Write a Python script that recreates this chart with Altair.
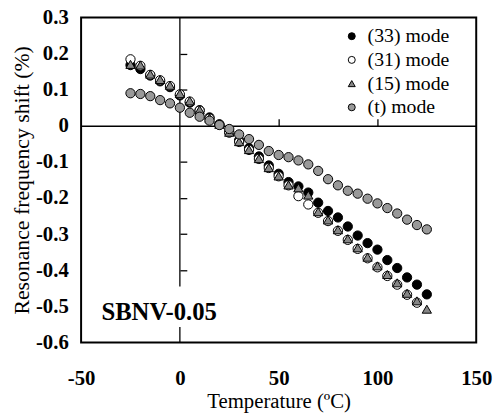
import altair as alt
import pandas as pd

# ---- data ----
temps = list(range(-25, 130, 5))          # 31 temperatures
temps31 = list(range(-25, 125, 5))        # (31) mode stops at 120
mode33 = [0.168, 0.157, 0.139, 0.123, 0.107, 0.084, 0.064, 0.043, 0.023, 0.004,
          -0.018, -0.040, -0.062, -0.085, -0.110, -0.133, -0.156, -0.168, -0.185, -0.213,
          -0.236, -0.254, -0.279, -0.304, -0.325, -0.343, -0.372, -0.394, -0.420, -0.440, -0.467]
mode31 = [0.184, 0.166, 0.141, 0.126, 0.110, 0.087, 0.067, 0.042, 0.020, 0.003,
          -0.019, -0.045, -0.067, -0.092, -0.117, -0.140, -0.165, -0.195, -0.218, -0.241,
          -0.264, -0.291, -0.316, -0.341, -0.367, -0.392, -0.416, -0.440, -0.468, -0.490]
mode15 = [0.170, 0.168, 0.143, 0.128, 0.112, 0.089, 0.069, 0.044, 0.021, 0.004,
          -0.018, -0.044, -0.066, -0.091, -0.116, -0.139, -0.164, -0.172, -0.192, -0.238,
          -0.261, -0.288, -0.313, -0.338, -0.364, -0.388, -0.412, -0.435, -0.464, -0.485, -0.508]
modet = [0.090, 0.088, 0.082, 0.071, 0.062, 0.050, 0.036, 0.025, 0.014, 0.002,
         -0.009, -0.024, -0.037, -0.053, -0.070, -0.081, -0.087, -0.096, -0.107, -0.125,
         -0.148, -0.165, -0.180, -0.188, -0.202, -0.215, -0.228, -0.243, -0.260, -0.275, -0.287]
series_names = ["(33) mode", "(31) mode", "(15) mode", "(t) mode"]
series_fill = ["black", "white", "#868686", "#999999"]
series_shape = ["circle", "circle", "triangle-up", "circle"]

x_ticks = [-50, 0, 50, 100, 150]
y_ticks = [0.3, 0.2, 0.1, 0.0, -0.1, -0.2, -0.3, -0.4, -0.5, -0.6]
inner_y_ticks = [0.2, 0.1, -0.1, -0.2, -0.3, -0.4]
inner_x_ticks = [50, 100]
sample_label = "SBNV-0.05"
sample_pos = {"T": [-10.5], "v": [-0.515]}
# vertical zero line, broken around the sample label
vline = {"T": [0, 0], "y1": [0.3, -0.557], "y2": [-0.445, -0.6]}

rows = []
for name, ts, vals in zip(series_names, [temps, temps31, temps, temps],
                          [mode33, mode31, mode15, modet]):
    for t, v in zip(ts, vals):
        rows.append({"mode": name, "T": t, "shift": v})
df = pd.DataFrame(rows)

FONT = "Liberation Serif, Times New Roman, DejaVu Serif, serif"
W, H = 400, 329
xscale = alt.Scale(domain=[-50, 150], nice=False, zero=False)
yscale = alt.Scale(domain=[-0.6, 0.3], nice=False, zero=False)

legend = alt.Legend(orient="none", legendX=264, legendY=9, title=None,
                    labelFont=FONT, labelFontSize=20, labelColor="black",
                    symbolSize=50, symbolStrokeColor="black", symbolStrokeWidth=1,
                    rowPadding=4, labelOffset=6, padding=0)

points = alt.Chart(df).mark_point(filled=True, size=88, stroke="black",
                                  strokeWidth=1, opacity=1).encode(
    x=alt.X("T:Q", scale=xscale, axis=alt.Axis(
        values=x_ticks,
        labelExpr="(datum.value < 0 ? '-' : '') + format(abs(datum.value), 'd')",
        labelFont=FONT, labelFontSize=21, labelFontWeight="bold", labelColor="black",
        labelPadding=26, labelFlush=False, labelOverlap=False,
        ticks=False, tickSize=0, domain=False, grid=False,
        title="Temperature (ºC)", titleFont=FONT, titleFontSize=21,
        titleFontWeight="normal", titleColor="black", titlePadding=2)),
    y=alt.Y("shift:Q", scale=yscale, axis=alt.Axis(
        values=y_ticks,
        labelExpr="datum.value == 0 ? '0' : (datum.value < 0 ? '-' : '') + format(abs(datum.value), '.1f')",
        labelFont=FONT, labelFontSize=21, labelFontWeight="bold", labelColor="black",
        labelPadding=13, labelFlush=False, labelOverlap=False,
        ticks=False, tickSize=0, domain=False, grid=False,
        title="Resonance frequency shift (%)", titleFont=FONT, titleFontSize=22,
        titleFontWeight="normal", titleColor="black", titlePadding=2)),
    fill=alt.Fill("mode:N", scale=alt.Scale(domain=series_names, range=series_fill),
                  legend=legend),
    shape=alt.Shape("mode:N", scale=alt.Scale(domain=series_names, range=series_shape),
                    legend=legend),
    stroke=alt.Stroke("mode:N", scale=alt.Scale(domain=series_names,
                                                range=["black"] * 4),
                      legend=legend),
)

cross = alt.Chart(pd.DataFrame(vline)).mark_rule(color="black", strokeWidth=1.3).encode(
    x=alt.X("T:Q", scale=xscale, axis=alt.Axis(
        orient="top", offset=-(0.3 / 0.9) * H, values=inner_x_ticks, labels=False,
        ticks=True, tickSize=7, tickColor="black", tickWidth=1.3,
        domain=True, domainColor="black", domainWidth=1.3, grid=False, title=None)),
    y=alt.Y("y1:Q", scale=yscale, axis=alt.Axis(
        orient="right", offset=-300, values=inner_y_ticks, labels=False,
        ticks=True, tickSize=7, tickColor="black", tickWidth=1.3,
        domain=False, grid=False, title=None)),
    y2="y2:Q",
)

label = alt.Chart(pd.DataFrame({**sample_pos, "label": [sample_label]})).mark_text(
    font=FONT, fontSize=25, fontWeight="bold", color="black",
    align="center", baseline="middle").encode(
    x=alt.X("T:Q", scale=xscale, axis=None),
    y=alt.Y("v:Q", scale=yscale, axis=None),
    text="label:N",
)

chart = alt.layer(cross, points, label).resolve_axis(
    x="independent", y="independent"
).properties(
    width=W, height=H, background="white",
    autosize=alt.AutoSizeParams(type="none"),
    padding={"left": 74, "top": 7, "right": 18, "bottom": 75},
).configure_view(
    stroke="black", strokeWidth=2
).configure_axis(
    labelFont=FONT, titleFont=FONT
).configure_legend(
    labelFont=FONT
).configure_text(font=FONT)

chart.save("out.html", embed_options={"renderer": "svg", "actions": False})
